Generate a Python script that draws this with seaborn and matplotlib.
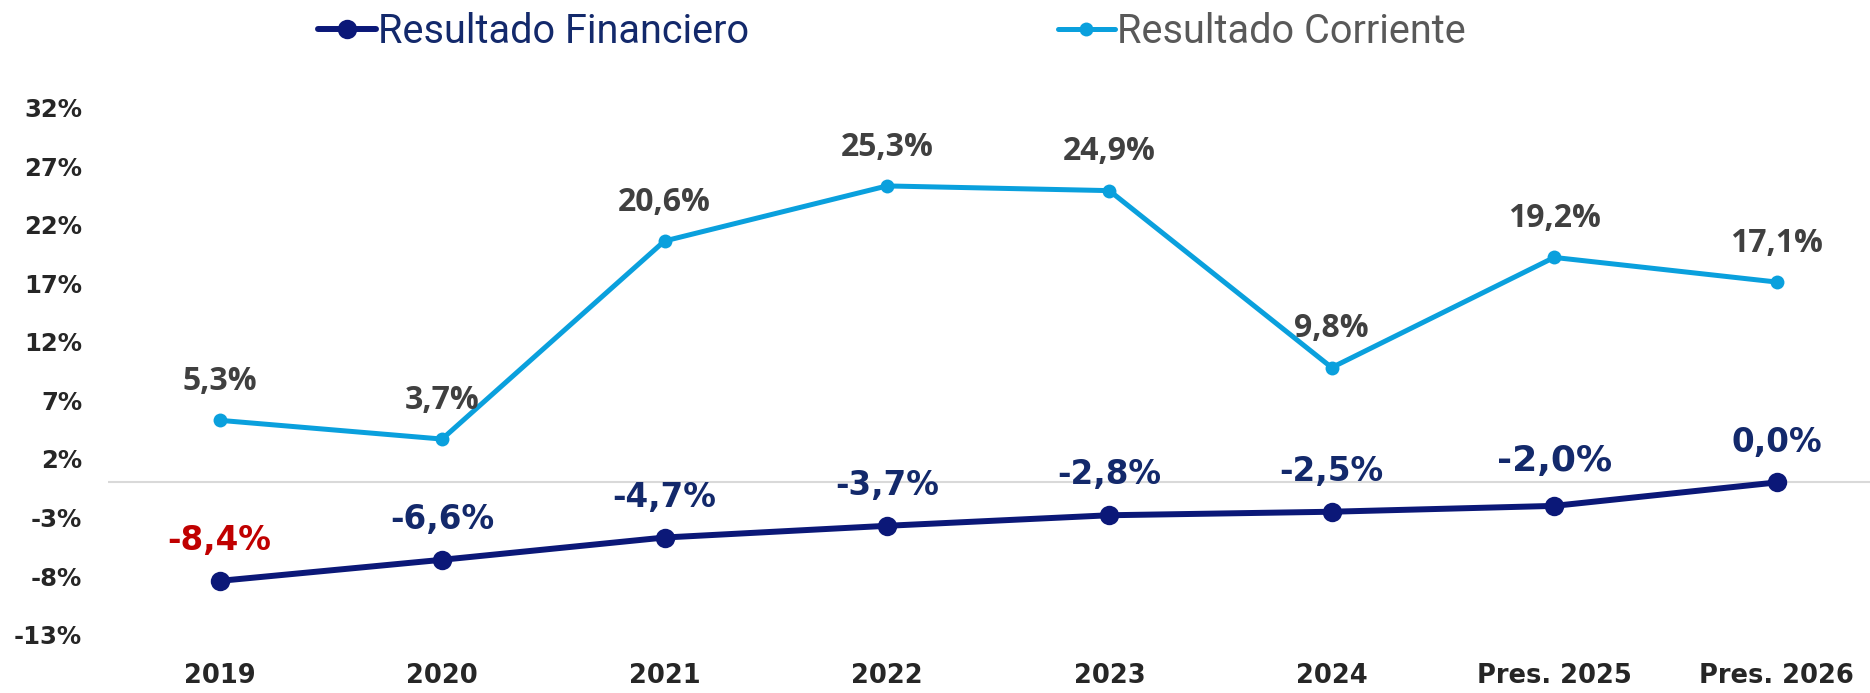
import numpy as np
import pandas as pd
import matplotlib
matplotlib.use("Agg")
import matplotlib.pyplot as plt
import seaborn as sns

categorias = ["2019", "2020", "2021", "2022", "2023", "2024", "Pres. 2025", "Pres. 2026"]
resultado_financiero = [-8.4, -6.6, -4.7, -3.7, -2.8, -2.5, -2.0, 0.0]
resultado_corriente = [5.3, 3.7, 20.6, 25.3, 24.9, 9.8, 19.2, 17.1]
y_ticks = [-13, -8, -3, 2, 7, 12, 17, 22, 27, 32]

azul_oscuro = "#0B1878"
azul_texto = "#13296B"
celeste = "#0AA0DD"
gris_texto = "#404040"
rojo = "#C00000"

sns.set_style("white")
plt.rcParams["font.family"] = ["DejaVu Sans"]

df = pd.DataFrame({
    "categoria": categorias,
    "financiero": resultado_financiero,
    "corriente": resultado_corriente,
})

fig = plt.figure(figsize=(18.7, 6.93), dpi=100)
ax = fig.add_axes([0.058, 0.084, 0.942, 0.761])

ax.axhline(0, color="#D9D9D9", lw=1.5, zorder=0)

sns.lineplot(data=df, x="categoria", y="financiero", sort=False, ax=ax,
             color=azul_oscuro, lw=4.3, marker="o", markersize=14,
             markeredgewidth=0, label="Resultado Financiero")
sns.lineplot(data=df, x="categoria", y="corriente", sort=False, ax=ax,
             color=celeste, lw=3.6, marker="o", markersize=10,
             markeredgewidth=0, label="Resultado Corriente")

# etiquetas de datos
for i, v in enumerate(resultado_corriente):
    ax.annotate(f"{v:.1f}%".replace(".", ","), (i, v), xytext=(0, 28),
                textcoords="offset points", ha="center", va="center",
                fontsize=23, fontweight="bold", color=gris_texto,
                family=["Open Sans", "DejaVu Sans"])
for i, v in enumerate(resultado_financiero):
    color = rojo if i == 0 else azul_texto
    size = 26 if i == 6 else 23.5
    off = 32 if i == 6 else 29
    ax.annotate(f"{v:.1f}%".replace(".", ","), (i, v), xytext=(0, off),
                textcoords="offset points", ha="center", va="center",
                fontsize=size, fontweight="bold", color=color)

ax.set_xlim(-0.5, 7.42)
ax.set_ylim(-13, 32)
ax.set_yticks(y_ticks)
ax.set_yticklabels([f"{t}%" for t in y_ticks], fontsize=17.5, fontweight="bold")
ax.set_xticks(range(len(categorias)))
ax.set_xticklabels(categorias, fontsize=18.5, fontweight="bold")
ax.tick_params(axis="y", pad=19, length=0)
ax.tick_params(axis="x", pad=20, length=0)
ax.set_xlabel("")
ax.set_ylabel("")
sns.despine(ax=ax, left=True, bottom=True)

ax.get_legend().remove()
handles, labels = ax.get_legend_handles_labels()
leg = fig.legend(handles, labels, loc="center", bbox_to_anchor=(0.477, 0.955),
                 ncol=2, frameon=False, handlelength=1.45, handletextpad=0.05,
                 columnspacing=7.8, prop={"family": "Roboto", "size": 28.5})
leg.get_texts()[0].set_color(azul_texto)
leg.get_texts()[1].set_color("#595959")

fig.savefig("out.png", dpi=100, facecolor="white")
